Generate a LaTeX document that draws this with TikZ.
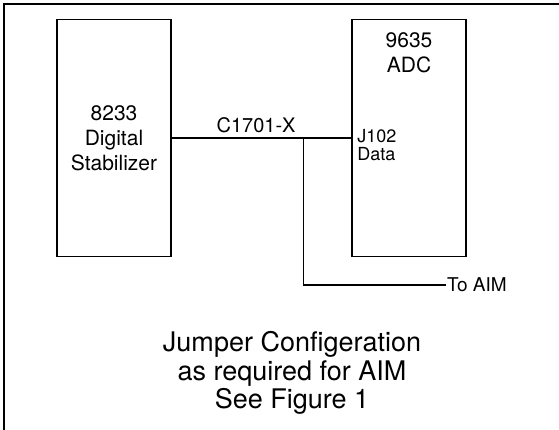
\documentclass[tikz,border=0pt]{standalone}
\usepackage{fontspec}
\setmainfont{TeX Gyre Heros}
\usepackage{tikz}
\usetikzlibrary{positioning,calc}

\begin{document}
\begin{tikzpicture}[
  x=1pt, y=-1pt,
  every node/.style={anchor=center},
  unitbox/.style={draw, line width=1.8pt, minimum width=114pt, minimum height=237pt,
    inner sep=0pt, align=center, font=\fontsize{21}{25}\selectfont},
  portlbl/.style={align=left, inner sep=1pt, font=\fontsize{18}{18.5}\selectfont},
  wire/.style={line width=1.4pt},
  notetext/.style={align=center, font=\fontsize{27}{28.5}\selectfont}
]
  \useasboundingbox (0,0) rectangle (559,430);

  % --- Rahmen (nur oben und links sichtbar) ---
  \draw[line width=2pt] (4,430) -- (4,4) -- (559,4);

  % --- Baugruppen ---
  \node[unitbox] (stab) at (114,138) {8233\\Digital\\Stabilizer};
  \node[unitbox] (adc)  at (409,138) {};
  \node[unitbox, draw=none, minimum size=0pt, anchor=north] (adclbl)
    at ($(adc.north)+(0,13)$) {9635\\ADC};
  \node[portlbl, anchor=north west] (jport) at ($(adc.west)+(5,-10)$) {J102\\Data};

  % --- Verbindung C1701-X ---
  \draw[wire] (stab.east) -- node[pos=0.47, above=1pt, font=\fontsize{20}{24}\selectfont] (cable) {C1701-X} (adc.west);

  % Abzweig zum AIM
  \coordinate (tap) at ($(stab.east)!0.735!(adc.west)$);
  \node[anchor=west, inner sep=1pt, font=\fontsize{19}{22}\selectfont] (toaim) at (446,285) {To AIM};
  \draw[wire] (tap) |- (toaim.west);

  % --- Hinweis ---
  \node[notetext] (note) at (292,373) {Jumper Configeration\\as required for AIM\\See Figure 1};
\end{tikzpicture}
\end{document}
